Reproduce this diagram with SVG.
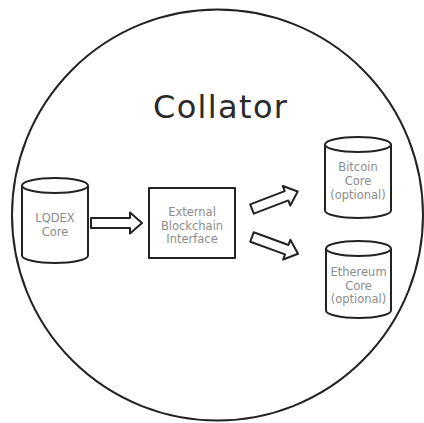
<svg xmlns="http://www.w3.org/2000/svg" width="424" height="423" viewBox="0 0 424 423">
<style>
.ln{fill:#fff;stroke:#222;stroke-width:2;stroke-linejoin:round}
.lbl{font-family:"DejaVu Sans","Liberation Sans",sans-serif;font-size:11.5px;fill:#8c8c8c;text-anchor:middle}
.ttl{font-family:"DejaVu Sans","Liberation Sans",sans-serif;font-size:32px;fill:#2a2a2a;text-anchor:middle}
</style>
<defs>
<polygon id="barrow" points="0,-5 37,-5 37,-10.5 49,0 37,10.5 37,5 0,5"/>
</defs>
<rect width="424" height="423" fill="#fff"/>
<g id="collator">
<circle cx="217.5" cy="215" r="205.5" fill="none" stroke="#222" stroke-width="2"/>
<text class="ttl" x="220" y="118" textLength="134" lengthAdjust="spacing">Collator</text>
</g>
<g id="lqdex">
<path class="ln" d="M22 185.5 A33 7.5 0 0 1 88 185.5 A33 7.5 0 0 1 22 185.5 V255.5 A33 7.5 0 0 0 88 255.5 V185.5"/>
<text class="lbl" x="55" y="222">LQDEX</text>
<text class="lbl" x="55" y="236">Core</text>
</g>
<g id="interface">
<rect class="ln" x="149" y="188" width="86" height="70"/>
<text class="lbl" x="192" y="216">External</text>
<text class="lbl" x="192" y="229.5">Blockchain</text>
<text class="lbl" x="192" y="243">Interface</text>
</g>
<g id="bitcoin">
<path class="ln" d="M325 144.5 A33 7.5 0 0 1 391 144.5 A33 7.5 0 0 1 325 144.5 V210.5 A33 7.5 0 0 0 391 210.5 V144.5"/>
<text class="lbl" x="358" y="171">Bitcoin</text>
<text class="lbl" x="358" y="185">Core</text>
<text class="lbl" x="358" y="199">(optional)</text>
</g>
<g id="ethereum">
<path class="ln" d="M326 248.5 A32.5 7.5 0 0 1 391 248.5 A32.5 7.5 0 0 1 326 248.5 V310.5 A32.5 7.5 0 0 0 391 310.5 V248.5"/>
<text class="lbl" x="358.5" y="276">Ethereum</text>
<text class="lbl" x="358.5" y="289.5">Core</text>
<text class="lbl" x="358.5" y="303">(optional)</text>
</g>
<g id="connectors">
<polygon class="ln" points="91,218 130,218 130,212.5 142,223 130,233.5 130,228 91,228"/>
<use href="#barrow" class="ln" transform="translate(252,209) rotate(-21)"/>
<use href="#barrow" class="ln" transform="translate(252,237) rotate(20)"/>
</g>
</svg>
